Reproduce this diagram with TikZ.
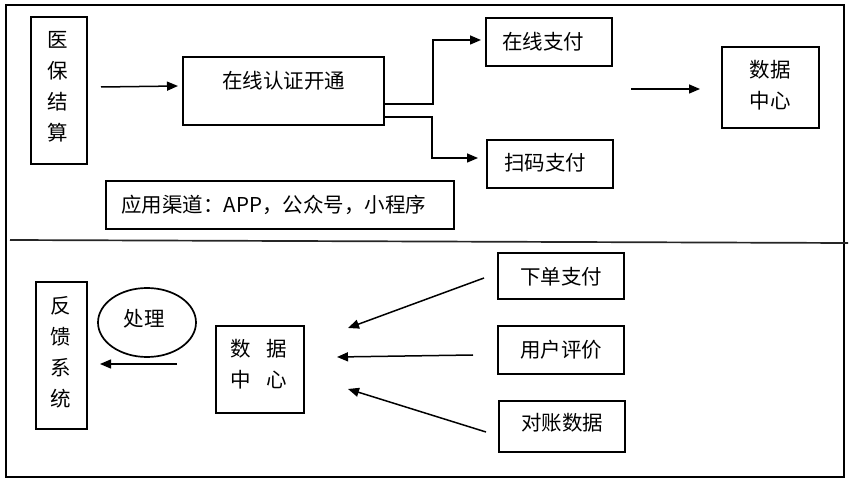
\documentclass[tikz,border=0pt]{standalone}
\usepackage{fontspec}
\setmainfont{Noto Sans CJK SC}
\usetikzlibrary{arrows.meta,shapes.geometric}
\begin{document}
\begin{tikzpicture}[x=1pt,y=-1pt,
  box/.style={draw,line width=2pt,inner sep=0pt},
  txt/.style={font=\fontsize{20.5}{31}\selectfont,align=center,inner sep=0pt},
  arr/.style={line width=1.5pt,-{Triangle[length=11pt,width=9pt]}},
  conn/.style={line width=1.5pt}]
\useasboundingbox (0,0) rectangle (852,486);
% frame and divider
\draw[line width=2pt] (6,5) rectangle (844,477);
\coordinate (d1) at (10,240);
\coordinate (d2) at (848,243);
\draw[line width=1.7pt,black!85] (d1) -- (d2);
% top part
\node[box,minimum width=56pt,minimum height=147pt] (yb) at (59,90.5) {};
\node[txt] (ybt) at (58,87) {医\\保\\结\\算};
\node[box,minimum width=201pt,minimum height=68pt] (rz) at (283.5,91) {};
\node[txt] (rzt) at (283.5,81) {在线认证开通};
\node[box,minimum width=126pt,minimum height=48pt] (zx) at (549,42) {};
\node[txt] (zxt) at (543,42) {在线支付};
\node[box,minimum width=126pt,minimum height=48pt] (sm) at (550,164) {};
\node[txt] (smt) at (545,163) {扫码支付};
\node[box,minimum width=348pt,minimum height=48pt] (yy) at (280,205) {};
\node[txt,anchor=west] (yyt) at (121,205) {应用渠道：APP，公众号，小程序};
\node[box,minimum width=97pt,minimum height=81pt] (sj1) at (770.5,87.5) {};
\node[txt] (sj1t) at (770,85) {数据\\中心};
\draw[arr] ([shift={(13,-3.5)}]yb.east) -- ([shift={(-4,-5)}]rz.west);
\draw[arr] ([yshift=-13]rz.east) -- ++(48,0) |- ([shift={(-4,-2)}]zx.west);
\draw[arr] ([yshift=9]rz.south east) -- ++(47,0) |- ([shift={(-8,-6)}]sm.west);
\coordinate (a1) at (631,89);
\draw[arr] (a1) -- ([shift={(-21,1.5)}]sj1.west);
% bottom part
\node[box,minimum width=51pt,minimum height=147pt] (fk) at (61.5,355.5) {};
\node[txt] (fkt) at (61,352) {反\\馈\\系\\统};
\node[draw,ellipse,line width=1.7pt,minimum width=98pt,minimum height=69pt,inner sep=0pt] (cl) at (147,322.5) {};
\node[txt] (clt) at (144,319) {处理};
\node[box,minimum width=88pt,minimum height=87pt] (sj2) at (260,369.5) {};
\node[txt] (sj2t) at (258.5,364.5) {数\hspace{16pt}据\\中\hspace{16pt}心};
\node[box,minimum width=126pt,minimum height=46pt] (xd) at (561,276) {};
\node[txt] (xdt) at (561,277) {下单支付};
\node[box,minimum width=126pt,minimum height=48pt] (yh) at (561,350) {};
\node[txt] (yht) at (561,350) {用户评价};
\node[box,minimum width=126pt,minimum height=51pt] (dz) at (562,426.5) {};
\node[txt] (dzt) at (562,423) {对账数据};
\draw[arr] ([shift={(-38,-5.5)}]sj2.west) -- ([shift={(12,8.5)}]fk.east);
\draw[arr] ([shift={(-13,2)}]xd.west) -- ([shift={(43,-41.5)}]sj2.east);
\draw[arr] ([shift={(-24,5)}]yh.west) -- ([shift={(32,-12.5)}]sj2.east);
\draw[arr] ([shift={(-12,5.5)}]dz.west) -- ([shift={(43,19.5)}]sj2.east);
\end{tikzpicture}
\end{document}
